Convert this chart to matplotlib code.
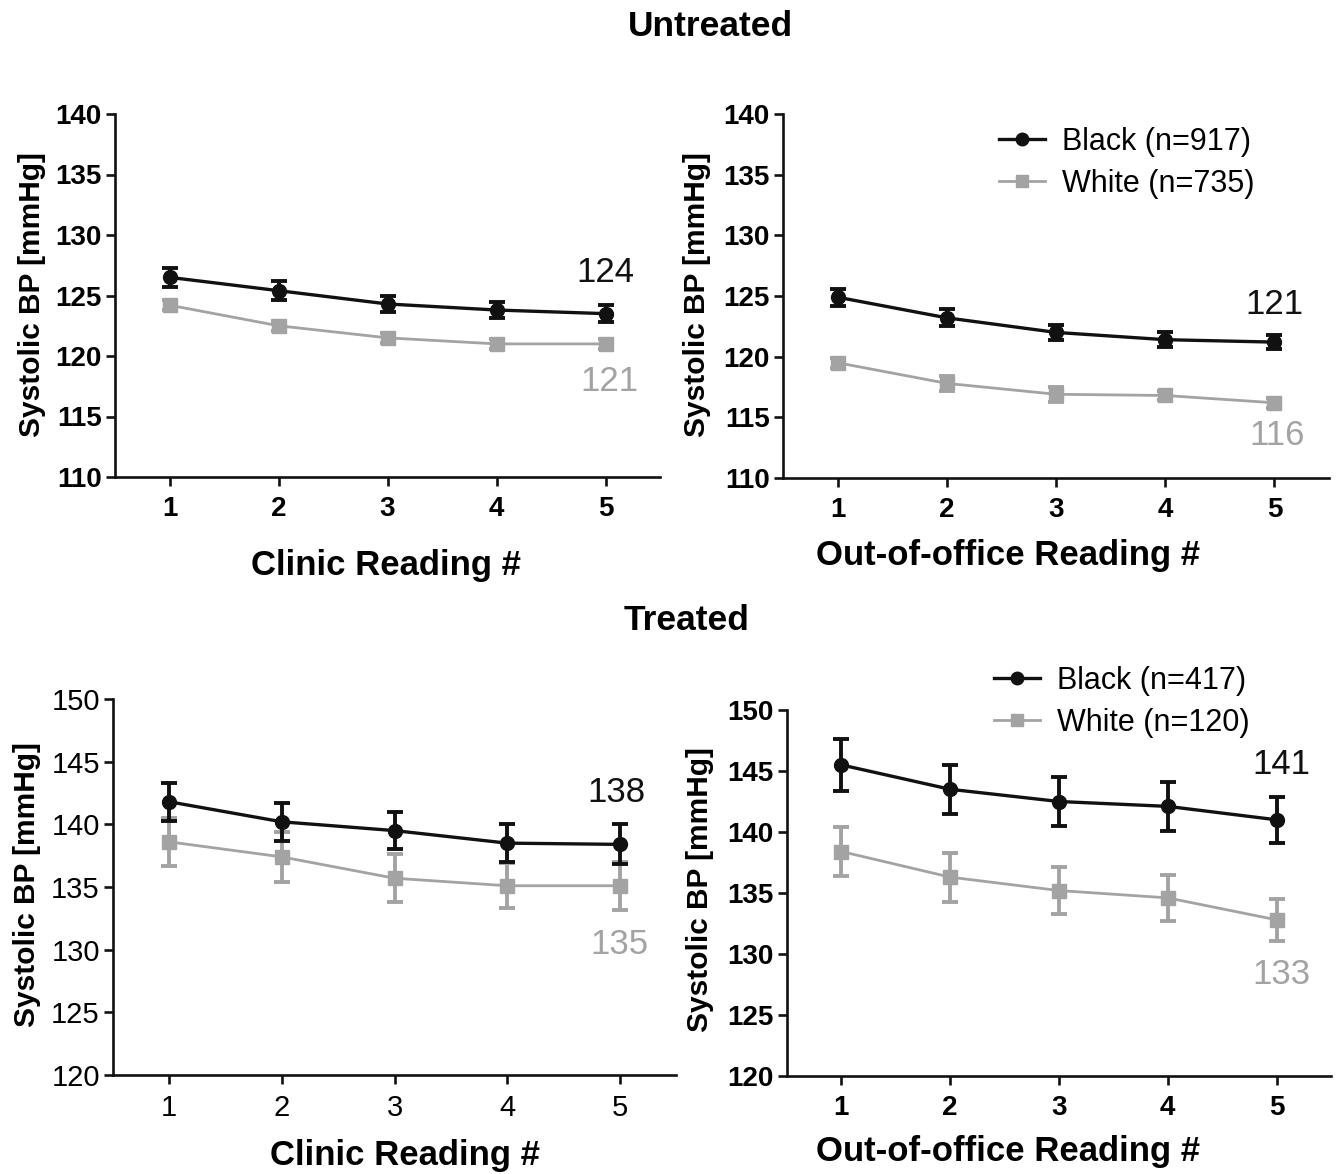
import matplotlib
matplotlib.use("Agg")
import matplotlib.pyplot as plt
from matplotlib.lines import Line2D

plt.rcParams['font.family'] = ['Liberation Sans', 'DejaVu Sans']

readings = [1, 2, 3, 4, 5]

# Untreated, clinic
ut_clinic_black = [126.5, 125.4, 124.3, 123.8, 123.5]
ut_clinic_black_err = [0.8, 0.8, 0.7, 0.7, 0.7]
ut_clinic_white = [124.2, 122.5, 121.5, 121.0, 121.0]
ut_clinic_white_err = [0.4, 0.4, 0.4, 0.4, 0.4]

# Untreated, out-of-office
ut_ooo_black = [124.9, 123.2, 122.0, 121.4, 121.2]
ut_ooo_black_err = [0.7, 0.7, 0.6, 0.6, 0.6]
ut_ooo_white = [119.5, 117.8, 116.9, 116.8, 116.2]
ut_ooo_white_err = [0.4, 0.6, 0.6, 0.4, 0.4]

# Treated, clinic
tr_clinic_black = [141.8, 140.2, 139.5, 138.5, 138.4]
tr_clinic_black_err = [1.5, 1.5, 1.5, 1.5, 1.6]
tr_clinic_white = [138.6, 137.4, 135.7, 135.1, 135.1]
tr_clinic_white_err = [1.9, 2.0, 1.9, 1.8, 1.9]

# Treated, out-of-office
tr_ooo_black = [145.5, 143.5, 142.5, 142.1, 141.0]
tr_ooo_black_err = [2.1, 2.0, 2.0, 2.0, 1.9]
tr_ooo_white = [138.4, 136.3, 135.2, 134.6, 132.8]
tr_ooo_white_err = [2.0, 2.0, 1.9, 1.9, 1.7]

end_labels = [("124", "121"), ("121", "116"), ("138", "135"), ("141", "133")]
legend_untreated = ["Black (n=917)", "White (n=735)"]
legend_treated = ["Black (n=417)", "White (n=120)"]

BLACK = "#111111"
GREY = "#a3a3a3"

W, H = 1344, 1174
fig = plt.figure(figsize=(W / 100, H / 100), dpi=100)

def px_rect(left, right, top, bottom):
    return [left / W, 1 - bottom / H, (right - left) / W, (bottom - top) / H]

panels = [
    dict(rect=px_rect(115, 660, 114, 477), ylim=(110, 140), black=ut_clinic_black, berr=ut_clinic_black_err,
         white=ut_clinic_white, werr=ut_clinic_white_err, bold=True, labels=end_labels[0],
         lab_y=(126.9, 117.9), lab_x=(5.0, 5.04)),
    dict(rect=px_rect(783, 1329, 114, 478), ylim=(110, 140), black=ut_ooo_black, berr=ut_ooo_black_err,
         white=ut_ooo_white, werr=ut_ooo_white_err, bold=True, labels=end_labels[1],
         lab_y=(124.3, 113.5), lab_x=(5.0, 5.02)),
    dict(rect=px_rect(113, 676, 699, 1075), ylim=(120, 150), black=tr_clinic_black, berr=tr_clinic_black_err,
         white=tr_clinic_white, werr=tr_clinic_white_err, bold=False, labels=end_labels[2],
         lab_y=(142.5, 130.4), lab_x=(4.97, 5.0)),
    dict(rect=px_rect(787, 1331, 710, 1076), ylim=(120, 150), black=tr_ooo_black, berr=tr_ooo_black_err,
         white=tr_ooo_white, werr=tr_ooo_white_err, bold=True, labels=end_labels[3],
         lab_y=(145.5, 128.3), lab_x=(5.04, 5.04)),
]

axes = []
for p in panels:
    ax = fig.add_axes(p['rect'])
    axes.append(ax)
    ax.errorbar(readings, p['white'], yerr=p['werr'], color=GREY, marker='s', markersize=10,
                linewidth=2.0, elinewidth=2.8, capsize=6, capthick=2.8, zorder=2)
    ax.errorbar(readings, p['black'], yerr=p['berr'], color=BLACK, marker='o', markersize=10,
                linewidth=2.4, elinewidth=2.8, capsize=6, capthick=2.8, zorder=3)
    ax.set_xlim(0.5, 5.5)
    ax.set_ylim(*p['ylim'])
    ax.set_xticks(readings)
    ax.set_yticks(range(p['ylim'][0], p['ylim'][1] + 1, 5))
    for s in ['top', 'right']:
        ax.spines[s].set_visible(False)
    for s in ['left', 'bottom']:
        ax.spines[s].set_linewidth(1.9)
        ax.spines[s].set_color(BLACK)
    fw = 'bold' if p['bold'] else 'normal'
    ax.tick_params(axis='both', direction='out', length=6.5, width=1.9, color=BLACK)
    ax.tick_params(axis='y', pad=3, labelsize=20 if p['bold'] else 21)
    ax.tick_params(axis='x', pad=7, labelsize=20 if p['bold'] else 21)
    for t in ax.get_xticklabels() + ax.get_yticklabels():
        t.set_fontweight(fw)
    ax.text(p['lab_x'][0], p['lab_y'][0], p['labels'][0], color=BLACK, fontsize=25, ha='center', va='center')
    ax.text(p['lab_x'][1], p['lab_y'][1], p['labels'][1], color=GREY, fontsize=25, ha='center', va='center')

# Legends
def make_legend(ax, labels, x_px, y_px):
    handles = [Line2D([], [], color=BLACK, marker='o', markersize=9, linewidth=2.4),
               Line2D([], [], color=GREY, marker='s', markersize=9, linewidth=2.0)]
    ax.legend(handles, labels, loc='upper left', bbox_to_anchor=(x_px / W, 1 - y_px / H),
              bbox_transform=fig.transFigure, frameon=False, fontsize=22, handlelength=1.5,
              handletextpad=0.55, labelspacing=0.38, borderpad=0, borderaxespad=0)

make_legend(axes[1], legend_untreated, 999, 127)
make_legend(axes[3], legend_treated, 994, 666)

# Titles
fig.text(710 / W, 1 - 27 / H, "Untreated", fontsize=25.5, fontweight='bold', ha='center', va='center')
fig.text(687 / W, 1 - 620 / H, "Treated", fontsize=25.5, fontweight='bold', ha='center', va='center')

# Axis labels
fig.text(386 / W, 1 - 566 / H, "Clinic Reading #", fontsize=25, fontweight='bold', ha='center', va='center')
fig.text(1008 / W, 1 - 556 / H, "Out-of-office Reading #", fontsize=25, fontweight='bold', ha='center', va='center')
fig.text(405 / W, 1 - 1155 / H, "Clinic Reading #", fontsize=25, fontweight='bold', ha='center', va='center')
fig.text(1008 / W, 1 - 1152 / H, "Out-of-office Reading #", fontsize=25, fontweight='bold', ha='center', va='center')

ylab = "Systolic BP [mmHg]"
fig.text(32 / W, 1 - 295 / H, ylab, fontsize=21.5, fontweight='bold', rotation=90, ha='center', va='center')
fig.text(697 / W, 1 - 295 / H, ylab, fontsize=21.5, fontweight='bold', rotation=90, ha='center', va='center')
fig.text(27 / W, 1 - 885 / H, ylab, fontsize=21.5, fontweight='bold', rotation=90, ha='center', va='center')
fig.text(700 / W, 1 - 890 / H, ylab, fontsize=21.5, fontweight='bold', rotation=90, ha='center', va='center')

fig.savefig("out.png", dpi=100, facecolor='white')
